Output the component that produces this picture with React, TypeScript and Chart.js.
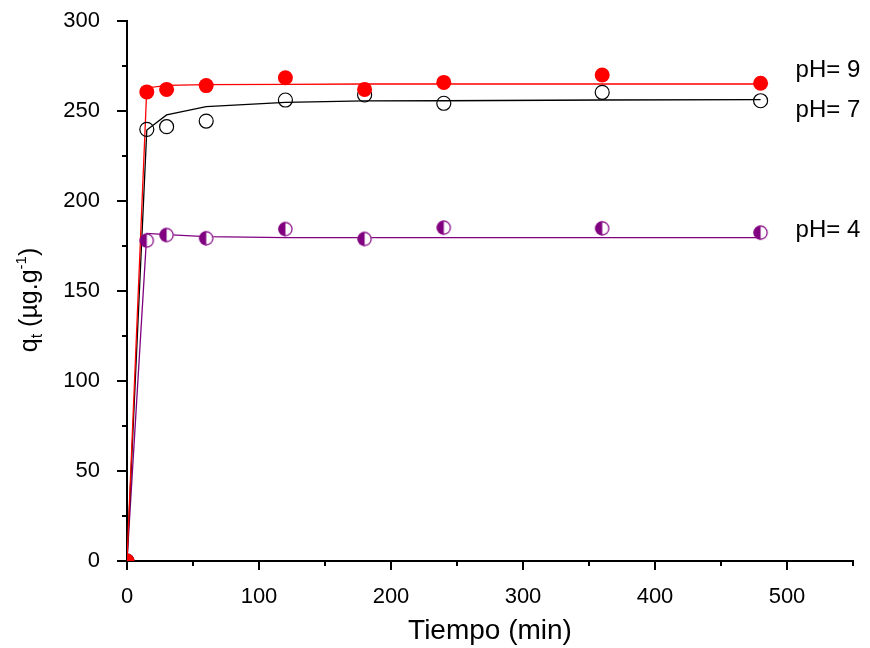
import React, { useEffect, useRef } from 'react';
import { Chart, registerables } from 'chart.js';

Chart.register(...registerables);

// ---- data ----
const times = [0, 15, 30, 60, 120, 180, 240, 360, 480];
const qPH9 = [0, 260.6, 262, 264.1, 268.5, 262, 265.9, 270, 265.4];
const qPH7 = [0, 239.8, 241.3, 244.4, 256.1, 258.9, 254.3, 260.4, 255.7];
const qPH4 = [0, 178, 181.1, 179.3, 184.4, 178.9, 185.2, 184.8, 182.4];
const fitPH9 = [0, 262.8, 264.2, 264.6, 264.8, 265, 265, 265, 265];
const fitPH7 = [0, 239.4, 247.8, 252.4, 254.8, 255.6, 255.7, 256.1, 256.3];
const fitPH4 = [0, 182, 181.3, 180.2, 179.7, 179.6, 179.6, 179.6, 179.6];

const xTicks = [0, 100, 200, 300, 400, 500];
const yTicks = [0, 50, 100, 150, 200, 250, 300];
const xMinorStep = 50;
const yMinorStep = 25;

const seriesLabels = ['pH= 9', 'pH= 7', 'pH= 4'];
const labelX = 531;
const labelY = [272.5, 250.5, 183.5];

const xTitle = 'Tiempo (min)';

const FONT = "Arial, 'Liberation Sans', sans-serif";

function halfCircle(r: number, color: string): HTMLCanvasElement {
  const s = Math.ceil(2 * r + 3);
  const c = document.createElement('canvas');
  c.width = s;
  c.height = s;
  const ctx = c.getContext('2d')!;
  const cx = s / 2;
  ctx.fillStyle = '#ffffff';
  ctx.beginPath();
  ctx.arc(cx, cx, r, 0, Math.PI * 2);
  ctx.fill();
  ctx.fillStyle = color;
  ctx.beginPath();
  ctx.moveTo(cx, cx);
  ctx.arc(cx, cx, r, Math.PI / 2, (3 * Math.PI) / 2);
  ctx.closePath();
  ctx.fill();
  ctx.strokeStyle = color;
  ctx.lineWidth = 1.2;
  ctx.beginPath();
  ctx.arc(cx, cx, r - 0.4, 0, Math.PI * 2);
  ctx.stroke();
  return c;
}

const decor = {
  id: 'decor',
  afterDraw(chart: any) {
    const ctx = chart.ctx as CanvasRenderingContext2D;
    const xs = chart.scales.x;
    const ys = chart.scales.y;
    ctx.save();
    ctx.strokeStyle = '#000';
    ctx.lineWidth = 2;
    ctx.beginPath();
    const axX = Math.round(ys.right);
    for (let v = ys.min; v <= ys.max; v += yMinorStep) {
      const y = Math.round(ys.getPixelForValue(v));
      const len = v % 50 === 0 ? 10 : 5;
      ctx.moveTo(axX - len, y);
      ctx.lineTo(axX, y);
    }
    const axY = Math.round(xs.top);
    for (let v = xs.min; v <= xs.max; v += xMinorStep) {
      const x = Math.round(xs.getPixelForValue(v));
      const len = v % 100 === 0 ? 9 : 5;
      ctx.moveTo(x, axY);
      ctx.lineTo(x, axY + len);
    }
    ctx.stroke();

    // series labels
    ctx.fillStyle = '#000';
    ctx.font = `24px ${FONT}`;
    ctx.textAlign = 'center';
    ctx.textBaseline = 'middle';
    seriesLabels.forEach((t, i) => {
      ctx.fillText(t, xs.getPixelForValue(labelX), ys.getPixelForValue(labelY[i]));
    });

    // x title
    ctx.font = `28px ${FONT}`;
    ctx.fillText(xTitle, (chart.chartArea.left + chart.chartArea.right) / 2, 631);

    // y title with sub/superscript
    ctx.translate(37, 300);
    ctx.rotate(-Math.PI / 2);
    ctx.textAlign = 'left';
    ctx.textBaseline = 'alphabetic';
    const parts: [string, number, number][] = [
      ['q', 25, 0],
      ['t', 16, 5],
      [' (\u00B5g.g', 25, 0],
      ['-1', 15, -11],
      [')', 25, 0],
    ];
    let total = 0;
    parts.forEach(([t, s]) => {
      ctx.font = `${s}px ${FONT}`;
      total += ctx.measureText(t).width;
    });
    let x = -total / 2;
    parts.forEach(([t, s, dy]) => {
      ctx.font = `${s}px ${FONT}`;
      ctx.fillText(t, x, dy);
      x += ctx.measureText(t).width;
    });
    ctx.restore();
  },
};

const pts = (ys: number[]) => times.map((t, i) => ({ x: t, y: ys[i] }));

export default function App() {
  const ref = useRef<HTMLCanvasElement>(null);
  useEffect(() => {
    if (!ref.current) return;
    const half = halfCircle(7, '#800080');
    const chart = new Chart(ref.current, {
      type: 'scatter',
      data: {
        datasets: [
          {
            label: 'pH 9',
            data: pts(qPH9),
            pointStyle: 'circle',
            pointRadius: 7.5,
            pointBackgroundColor: '#ff0000',
            pointBorderColor: '#ff0000',
            pointBorderWidth: 0,
            showLine: false,
          },
          {
            label: 'pH 7',
            data: pts(qPH7),
            pointStyle: 'circle',
            pointRadius: 7,
            pointBackgroundColor: 'rgba(0,0,0,0)',
            pointBorderColor: '#000000',
            pointBorderWidth: 1.2,
            showLine: false,
          },
          {
            label: 'pH 4',
            data: pts(qPH4),
            pointStyle: half as any,
            pointRadius: 7,
            showLine: false,
          },
          {
            label: 'fit pH 9',
            data: pts(fitPH9),
            showLine: true,
            borderColor: '#ff0000',
            borderWidth: 1.3,
            pointRadius: 0,
            tension: 0,
          },
          {
            label: 'fit pH 7',
            data: pts(fitPH7),
            showLine: true,
            borderColor: '#000000',
            borderWidth: 1.3,
            pointRadius: 0,
            tension: 0,
          },
          {
            label: 'fit pH 4',
            data: pts(fitPH4),
            showLine: true,
            borderColor: '#800080',
            borderWidth: 1.3,
            pointRadius: 0,
            tension: 0,
          },
        ] as any,
      },
      options: {
        responsive: false,
        animation: false,
        events: [],
        plugins: { legend: { display: false }, tooltip: { enabled: false } },
        layout: { padding: { top: 21, right: 17, left: 0, bottom: 0 } },
        scales: {
          x: {
            type: 'linear',
            min: 0,
            max: 550,
            afterFit: (s: any) => {
              s.height = 87;
              s.paddingLeft = 0;
              s.paddingRight = 0;
            },
            afterBuildTicks: (s: any) => {
              s.ticks = xTicks.map((v) => ({ value: v }));
            },
            grid: { display: false },
            border: { display: true, color: '#000', width: 2 },
            ticks: { color: '#000', font: { size: 22, family: FONT }, padding: 15, maxRotation: 0 },
          },
          y: {
            type: 'linear',
            min: 0,
            max: 300,
            afterFit: (s: any) => {
              s.width = 127;
              s.paddingTop = 0;
              s.paddingBottom = 0;
            },
            afterBuildTicks: (s: any) => {
              s.ticks = yTicks.map((v) => ({ value: v }));
            },
            grid: { display: false },
            border: { display: true, color: '#000', width: 2 },
            ticks: { color: '#000', font: { size: 22, family: FONT }, padding: 19 },
          },
        },
      } as any,
      plugins: [decor],
    });
    return () => chart.destroy();
  }, []);
  return (
    <div style={{ position: 'absolute', left: 0, top: 0, width: 870, height: 648 }}>
      <canvas ref={ref} width={870} height={648} />
    </div>
  );
}
